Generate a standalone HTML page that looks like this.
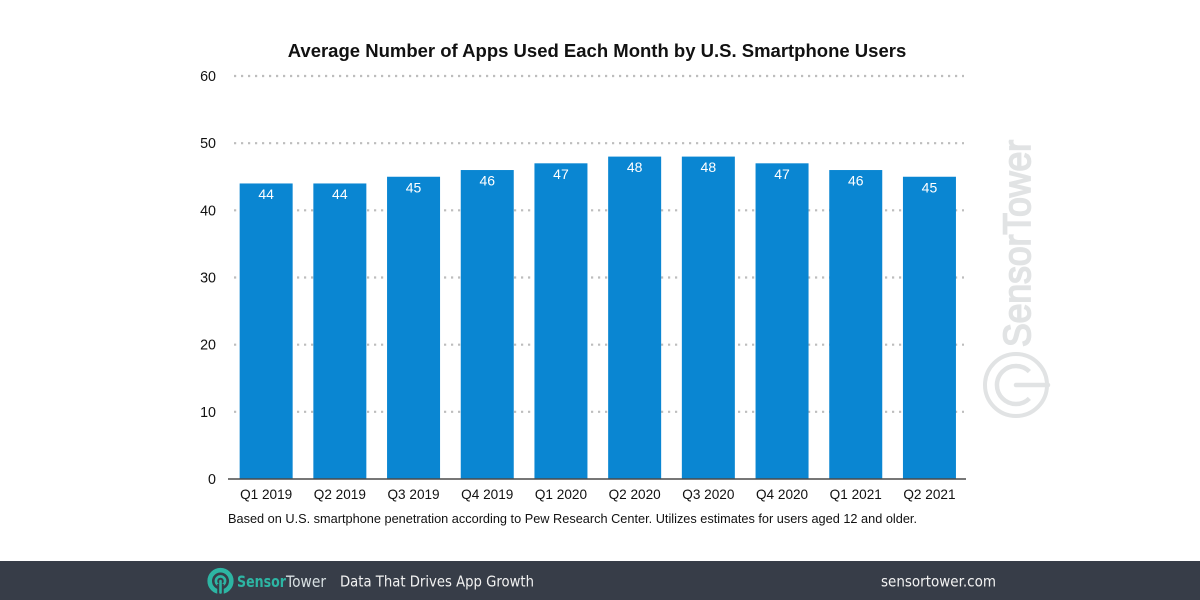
<!DOCTYPE html>
<html lang="en">
<head>
<meta charset="utf-8">
<title>Average Number of Apps Used Each Month by U.S. Smartphone Users</title>
<style>
html,body{margin:0;padding:0;background:#fff;}
#stage{position:relative;width:1200px;height:600px;overflow:hidden;background:#fff;}
svg{position:absolute;left:0;top:0;}
text{font-family:"Liberation Sans",Arial,sans-serif;}
text.open{font-family:"DejaVu Sans",sans-serif;}
</style>
</head>
<body>
<div id="stage">
<svg id="chart" width="1200" height="600" viewBox="0 0 1200 600">
  <text x="597" y="57" text-anchor="middle" font-size="18.5" font-weight="700" fill="#111">Average Number of Apps Used Each Month by U.S. Smartphone Users</text>
  <g id="grid"></g>
  <g id="yticks"></g>
  <g id="bars"></g>
  <line x1="228" x2="966" y1="479" y2="479" stroke="#4a4a4a" stroke-width="1.5"/>
  <g id="xticks"></g>
  <text x="228" y="523" font-size="12.75" fill="#111" textLength="689" lengthAdjust="spacingAndGlyphs">Based on U.S. smartphone penetration according to Pew Research Center. Utilizes estimates for users aged 12 and older.</text>

  <g>
    <text transform="translate(1030,347) rotate(-90)" font-size="38" fill="#e1e3e4" stroke="#e1e3e4" stroke-width="1.7" textLength="207" lengthAdjust="spacingAndGlyphs">SensorTower</text>
    <circle cx="1016" cy="385" r="31" fill="none" stroke="#e1e3e4" stroke-width="4"/>
    <path d="M1029.4 371.6 A19 19 0 1 0 1029.4 398.4" fill="none" stroke="#e1e3e4" stroke-width="4.5"/>
    <path d="M1016 385 H1048" fill="none" stroke="#e1e3e4" stroke-width="4.5" stroke-linecap="round"/>
  </g>

  <rect x="0" y="561" width="1200" height="39" fill="#373d48"/>
  <g>
    <circle cx="220.5" cy="581" r="10.8" fill="none" stroke="#2db5a3" stroke-width="4.6"/>
    <circle cx="220.5" cy="581" r="4.6" fill="none" stroke="#2db5a3" stroke-width="2.6"/>
    <path d="M220.5 584 V595" stroke="#373d48" stroke-width="6.5"/>
    <path d="M220.5 581 V592.5" stroke="#2db5a3" stroke-width="2.6" stroke-linecap="round"/>
  </g>
  <text class="open" x="237" y="587" font-size="16" font-weight="700" fill="#2db5a3" textLength="49" lengthAdjust="spacingAndGlyphs">Sensor</text>
  <text class="open" x="286" y="587" font-size="16" fill="#d8e0e2" textLength="40" lengthAdjust="spacingAndGlyphs">Tower</text>
  <text class="open" x="340" y="586.5" font-size="15" fill="#f2f2f2" textLength="194" lengthAdjust="spacingAndGlyphs">Data That Drives App Growth</text>
  <text class="open" x="881" y="586.5" font-size="15" fill="#f2f2f2" textLength="115" lengthAdjust="spacingAndGlyphs">sensortower.com</text>
</svg>
</div>
<script>
const categories = ["Q1 2019","Q2 2019","Q3 2019","Q4 2019","Q1 2020","Q2 2020","Q3 2020","Q4 2020","Q1 2021","Q2 2021"];
const appsUsed = [44,44,45,46,47,48,48,47,46,45];
const yTicks = [0,10,20,30,40,50,60];

const NS = "http://www.w3.org/2000/svg";
const plotLeft = 229.3, plotRight = 966.3, plotBottom = 479, plotTop = 76, yMax = 60;
const barWidth = 53;
function yScale(v){ return plotBottom - (v / yMax) * (plotBottom - plotTop); }
function xBand(i){ return plotLeft + (i + 0.5) * (plotRight - plotLeft) / categories.length; }
function make(tag, attrs, parent, txt){
  const el = document.createElementNS(NS, tag);
  for (const k in attrs) el.setAttribute(k, attrs[k]);
  if (txt !== undefined) el.textContent = txt;
  parent.appendChild(el);
  return el;
}
const gridG = document.getElementById("grid");
const yG = document.getElementById("yticks");
const barsG = document.getElementById("bars");
const xG = document.getElementById("xticks");

yTicks.forEach(function(t){
  if (t !== 0) {
    const line = make("line", {x1:234, x2:964, y1:yScale(t), y2:yScale(t), stroke:"#bdbdbd", "stroke-width":2.2, "stroke-dasharray":"2.2 4.8"}, gridG);
    
    
  }
  const label = make("text", {x:216, y:yScale(t) + 5, "text-anchor":"end", "font-size":14.3, fill:"#111"}, yG, String(t));
  
  
});

categories.forEach(function(c, i){
  const cx = xBand(i), top = yScale(appsUsed[i]);
  const bar = make("rect", {x:cx - barWidth / 2, y:top, width:barWidth, height:plotBottom - top, fill:"#0a86d2"}, barsG);
  
  
  const val = make("text", {x:cx, y:top + 15.5, "text-anchor":"middle", "font-size":14, fill:"#fff"}, barsG, String(appsUsed[i]));
  
  
  const tick = make("text", {x:cx, y:499, "text-anchor":"middle", "font-size":13.6, fill:"#111"}, xG, c);
  
  
});
</script>
</body>
</html>
